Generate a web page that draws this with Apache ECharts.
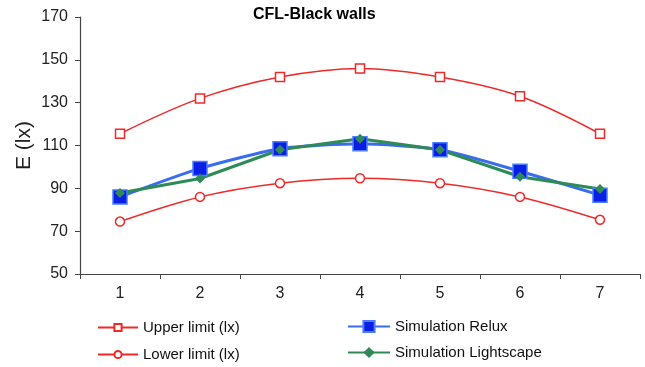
<!DOCTYPE html>
<html><head><meta charset="utf-8">
<script src="https://cdn.jsdelivr.net/npm/echarts@6/dist/echarts.min.js"></script>
<style>html,body{margin:0;padding:0;background:#fff}#c{width:645px;height:367px}</style>
</head><body><div id="c"></div>
<script>
const categories = ['1','2','3','4','5','6','7'];
const upperLimit = [115.5, 132, 142, 146, 142, 133, 115.5];
const lowerLimit = [74.5, 86, 92.4, 94.7, 92.4, 86, 75.3];
const relux = [86, 99.3, 108.5, 110.8, 108, 98, 86.8];
const lightscape = [87.8, 94.6, 108, 113.2, 108, 95.4, 89.7];
const yTicks = [50, 70, 90, 110, 130, 150, 170];

const chart = echarts.init(document.getElementById('c'), null, {renderer:'canvas'});
const font = 'Liberation Sans, Arial, sans-serif';
const red = '#ee2a2a';
chart.setOption({
  animation:false,
  title:{text:'CFL-Black walls', left:248, top:2,
    textStyle:{fontFamily:font, fontSize:16, fontWeight:'bold', color:'#000'}},
  grid:{left:80, right:5, top:17, bottom:93},
  xAxis:{type:'category', data:categories,
    axisLine:{lineStyle:{color:'#444', width:1.2}},
    axisTick:{show:true, length:5, lineStyle:{color:'#444'}},
    axisLabel:{fontFamily:font, fontSize:16, color:'#222', margin:12}},
  yAxis:{type:'value', min:yTicks[0], max:yTicks[yTicks.length-1], interval:20,
    name:'E (lx)', nameLocation:'middle', nameGap:45, nameRotate:90, nameMoveOverlap:false,
    nameTextStyle:{fontFamily:font, fontSize:21, color:'#222'},
    axisLine:{show:true, lineStyle:{color:'#444', width:1.2}},
    axisTick:{show:true, length:5, lineStyle:{color:'#444'}},
    splitLine:{show:false},
    axisLabel:{fontFamily:font, fontSize:16, color:'#222', margin:12}},
  legend:[
    {data:['Upper limit (lx)','Lower limit (lx)'], orient:'vertical', left:92, top:315, height:52,
     itemWidth:40, itemHeight:9, itemGap:12,
     textStyle:{fontFamily:font, fontSize:15, color:'#111'}},
    {data:['Simulation Relux','Simulation Lightscape'], orient:'vertical', left:342, top:314, height:52,
     itemWidth:42, itemHeight:14, itemGap:11,
     textStyle:{fontFamily:font, fontSize:15, color:'#111'}}
  ],
  series:[
    {name:'Upper limit (lx)', type:'line', data:upperLimit, smooth:0.35,
     symbol:'rect', symbolSize:9, color:red,
     lineStyle:{color:red, width:1.5},
     itemStyle:{color:'#fff', borderColor:red, borderWidth:1.5}},
    {name:'Lower limit (lx)', type:'line', data:lowerLimit, smooth:0.35,
     symbol:'circle', symbolSize:9, color:red,
     lineStyle:{color:red, width:1.5},
     itemStyle:{color:'#fff', borderColor:red, borderWidth:1.5}},
    {name:'Simulation Relux', type:'line', data:relux, smooth:0.2,
     symbol:'rect', symbolSize:14, color:'#3a6cf0',
     lineStyle:{color:'#3a6cf0', width:3},
     itemStyle:{color:'#0a1ee6', borderColor:'#4a7cff', borderWidth:1.5}},
    {name:'Simulation Lightscape', type:'line', data:lightscape,
     symbol:'diamond', symbolSize:10, color:'#2e8b57',
     lineStyle:{color:'#2e8b57', width:3},
     itemStyle:{color:'#2e8b57'}}
  ]
});
</script></body></html>
